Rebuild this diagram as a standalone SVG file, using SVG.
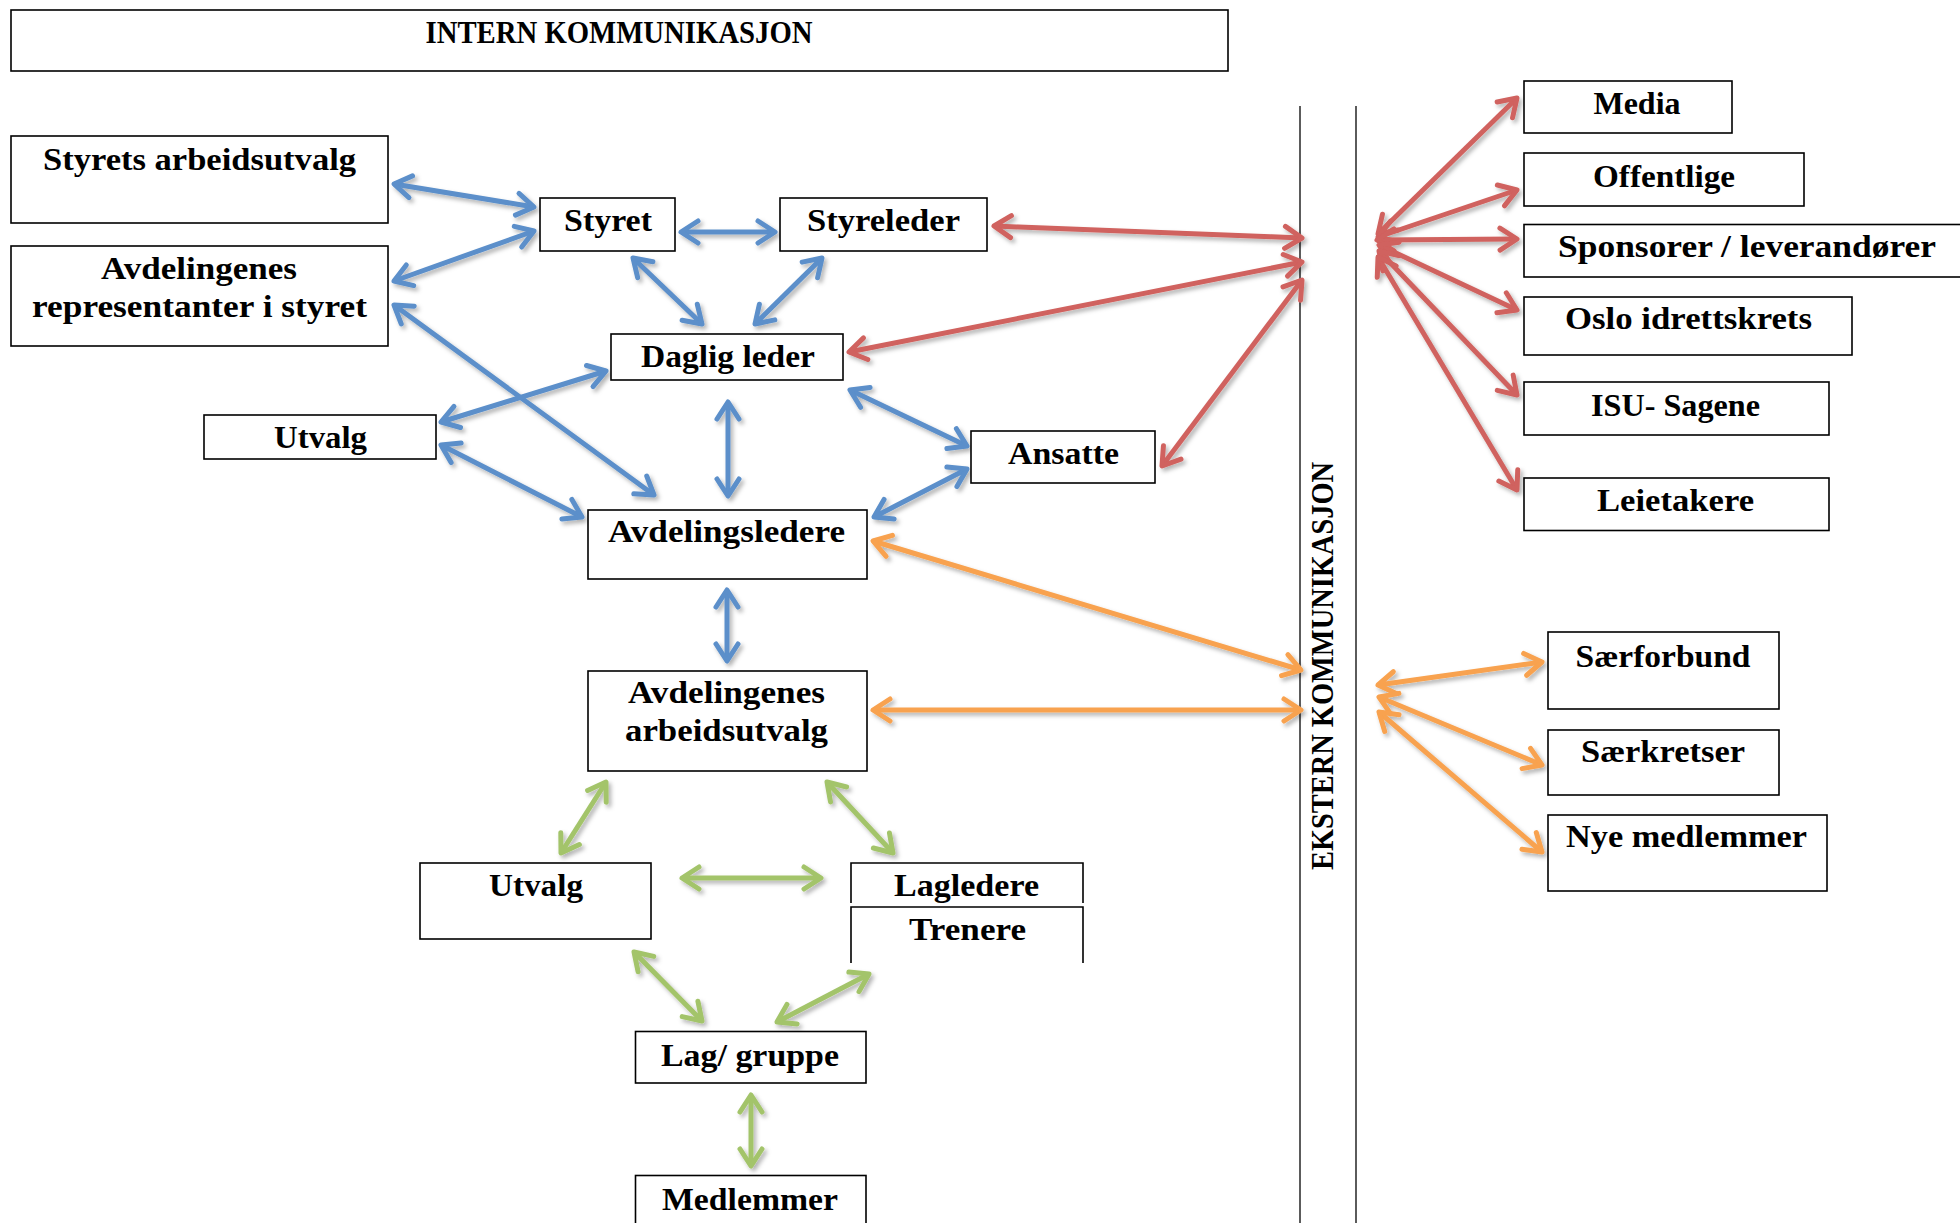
<svg xmlns="http://www.w3.org/2000/svg" width="1960" height="1223" viewBox="0 0 1960 1223">
<style>
.box{fill:#fff;stroke:#000;stroke-width:1.6}
.open{fill:none;stroke:#000;stroke-width:1.6}
.t{font-family:"Liberation Serif","DejaVu Serif",serif;font-weight:bold;font-size:31px;fill:#000;text-anchor:middle}
.sep{stroke:#333;stroke-width:1.6}
.c line{stroke-width:5;fill:none}
.b{stroke:#5B8FCA;marker-start:url(#mb);marker-end:url(#mb)}
.r{stroke:#D0625E;marker-start:url(#mr);marker-end:url(#mr)}
.o{stroke:#F8A24F;marker-start:url(#mo);marker-end:url(#mo)}
.g{stroke:#A3C46A;marker-start:url(#mg);marker-end:url(#mg)}
</style>
<defs>
<filter id="sh" x="-20%" y="-20%" width="140%" height="140%">
<feDropShadow dx="2.5" dy="3" stdDeviation="2" flood-color="#000" flood-opacity="0.3"/>
</filter>
<marker id="mb" markerUnits="userSpaceOnUse" markerWidth="40" markerHeight="40" refX="0" refY="0" orient="auto-start-reverse" overflow="visible"><path d="M-17,-11 L0,0 L-17,11" fill="none" stroke="#5B8FCA" stroke-width="5" stroke-linecap="round" stroke-linejoin="round"/></marker>
<marker id="mr" markerUnits="userSpaceOnUse" markerWidth="40" markerHeight="40" refX="0" refY="0" orient="auto-start-reverse" overflow="visible"><path d="M-17,-11 L0,0 L-17,11" fill="none" stroke="#D0625E" stroke-width="5" stroke-linecap="round" stroke-linejoin="round"/></marker>
<marker id="mo" markerUnits="userSpaceOnUse" markerWidth="40" markerHeight="40" refX="0" refY="0" orient="auto-start-reverse" overflow="visible"><path d="M-17,-11 L0,0 L-17,11" fill="none" stroke="#F8A24F" stroke-width="5" stroke-linecap="round" stroke-linejoin="round"/></marker>
<marker id="mg" markerUnits="userSpaceOnUse" markerWidth="40" markerHeight="40" refX="0" refY="0" orient="auto-start-reverse" overflow="visible"><path d="M-17,-11 L0,0 L-17,11" fill="none" stroke="#A3C46A" stroke-width="5" stroke-linecap="round" stroke-linejoin="round"/></marker>
</defs>
<rect width="1960" height="1223" fill="#fff"/>

<g id="n-title"><rect class="box" x="11" y="10" width="1217" height="61"/><text class="t" x="619" y="43" textLength="387" lengthAdjust="spacingAndGlyphs">INTERN KOMMUNIKASJON</text></g>

<g id="ekstern">
<line class="sep" x1="1300" y1="106" x2="1300" y2="1223"/>
<line class="sep" x1="1356" y1="106" x2="1356" y2="1223"/>
<text class="t" transform="translate(1333,666) rotate(-90)" x="0" y="0" textLength="408" lengthAdjust="spacingAndGlyphs">EKSTERN KOMMUNIKASJON</text>
</g>

<g id="connectors" class="c" filter="url(#sh)">
<line class="b" x1="394" y1="184" x2="534" y2="207"/>
<line class="b" x1="394" y1="281" x2="534" y2="231"/>
<line class="b" x1="681" y1="232" x2="775" y2="232"/>
<line class="b" x1="633" y1="258" x2="702" y2="324"/>
<line class="b" x1="822" y1="258" x2="755" y2="324"/>
<line class="b" x1="394" y1="305" x2="654" y2="495"/>
<line class="b" x1="441" y1="422" x2="606" y2="371"/>
<line class="b" x1="441" y1="445" x2="582" y2="517"/>
<line class="b" x1="728" y1="402" x2="728" y2="496"/>
<line class="b" x1="850" y1="390" x2="967" y2="446"/>
<line class="b" x1="874" y1="517" x2="967" y2="469"/>
<line class="b" x1="727" y1="590" x2="727" y2="661"/>

<line class="r" x1="994" y1="226" x2="1302" y2="238"/>
<line class="r" x1="849" y1="352" x2="1302" y2="262"/>
<line class="r" x1="1162" y1="466" x2="1302" y2="280"/>
<line class="r" x1="1378" y1="234" x2="1517" y2="98"/>
<line class="r" x1="1378" y1="237" x2="1517" y2="190"/>
<line class="r" x1="1377" y1="240" x2="1517" y2="239"/>
<line class="r" x1="1379" y1="245" x2="1517" y2="310"/>
<line class="r" x1="1379" y1="251" x2="1517" y2="395"/>
<line class="r" x1="1378" y1="257" x2="1517" y2="490"/>

<line class="o" x1="873" y1="541" x2="1301" y2="670"/>
<line class="o" x1="873" y1="710" x2="1301" y2="710"/>
<line class="o" x1="1378" y1="685" x2="1542" y2="662"/>
<line class="o" x1="1379" y1="697" x2="1542" y2="765"/>
<line class="o" x1="1379" y1="712" x2="1542" y2="852"/>

<line class="g" x1="606" y1="782" x2="561" y2="853"/>
<line class="g" x1="827" y1="782" x2="893" y2="853"/>
<line class="g" x1="682" y1="878" x2="821" y2="878"/>
<line class="g" x1="634" y1="952" x2="702" y2="1021"/>
<line class="g" x1="869" y1="974" x2="777" y2="1022"/>
<line class="g" x1="751" y1="1095" x2="751" y2="1166"/>
</g>

<g id="n-sau"><rect class="box" x="11" y="136" width="377" height="87"/><text class="t" x="199.5" y="170" textLength="313" lengthAdjust="spacingAndGlyphs">Styrets arbeidsutvalg</text></g>
<g id="n-avdrep"><rect class="box" x="11" y="246" width="377" height="100"/><text class="t" x="199" y="279" textLength="196" lengthAdjust="spacingAndGlyphs">Avdelingenes</text><text class="t" x="199.5" y="317" textLength="335" lengthAdjust="spacingAndGlyphs">representanter i styret</text></g>
<g id="n-styret"><rect class="box" x="540" y="198" width="135" height="53"/><text class="t" x="608" y="231" textLength="88" lengthAdjust="spacingAndGlyphs">Styret</text></g>
<g id="n-styreleder"><rect class="box" x="780" y="198" width="207" height="53"/><text class="t" x="883.5" y="231" textLength="153" lengthAdjust="spacingAndGlyphs">Styreleder</text></g>
<g id="n-daglig"><rect class="box" x="611" y="334" width="232" height="46"/><text class="t" x="728" y="367" textLength="174" lengthAdjust="spacingAndGlyphs">Daglig leder</text></g>
<g id="n-utvalg1"><rect class="box" x="204" y="415" width="232" height="44"/><text class="t" x="320.5" y="448" textLength="93" lengthAdjust="spacingAndGlyphs">Utvalg</text></g>
<g id="n-ansatte"><rect class="box" x="971" y="431" width="184" height="52"/><text class="t" x="1063.5" y="464" textLength="111" lengthAdjust="spacingAndGlyphs">Ansatte</text></g>
<g id="n-avdledere"><rect class="box" x="588" y="510" width="279" height="69"/><text class="t" x="726.5" y="542" textLength="237" lengthAdjust="spacingAndGlyphs">Avdelingsledere</text></g>
<g id="n-avdarb"><rect class="box" x="588" y="671" width="279" height="100"/><text class="t" x="726.5" y="703" textLength="197" lengthAdjust="spacingAndGlyphs">Avdelingenes</text><text class="t" x="726.5" y="741" textLength="203" lengthAdjust="spacingAndGlyphs">arbeidsutvalg</text></g>
<g id="n-utvalg2"><rect class="box" x="420" y="863" width="231" height="76"/><text class="t" x="536" y="896" textLength="94" lengthAdjust="spacingAndGlyphs">Utvalg</text></g>
<g id="n-lagledere"><path class="open" d="M851,903 V863 H1083 V903"/><text class="t" x="966.5" y="896" textLength="145" lengthAdjust="spacingAndGlyphs">Lagledere</text></g>
<g id="n-trenere"><path class="open" d="M851,963 V907 H1083 V963"/><text class="t" x="967.5" y="940" textLength="117" lengthAdjust="spacingAndGlyphs">Trenere</text></g>
<g id="n-lag"><rect class="box" x="635.5" y="1031.5" width="230.5" height="51.5"/><text class="t" x="750" y="1066" textLength="178" lengthAdjust="spacingAndGlyphs">Lag/ gruppe</text></g>
<g id="n-medlemmer"><rect class="box" x="635.5" y="1175.5" width="230.5" height="60"/><text class="t" x="750" y="1210" textLength="176" lengthAdjust="spacingAndGlyphs">Medlemmer</text></g>

<g id="n-media"><rect class="box" x="1524" y="81" width="208" height="52"/><text class="t" x="1637" y="114" textLength="87" lengthAdjust="spacingAndGlyphs">Media</text></g>
<g id="n-offentlige"><rect class="box" x="1524" y="153" width="280" height="53"/><text class="t" x="1664" y="187" textLength="142" lengthAdjust="spacingAndGlyphs">Offentlige</text></g>
<g id="n-sponsorer"><rect class="box" x="1524" y="224.5" width="450" height="52.5"/><text class="t" x="1747" y="256.5" textLength="378" lengthAdjust="spacingAndGlyphs">Sponsorer / leverandører</text></g>
<g id="n-oslo"><rect class="box" x="1524" y="297" width="328" height="58"/><text class="t" x="1688.5" y="329" textLength="247" lengthAdjust="spacingAndGlyphs">Oslo idrettskrets</text></g>
<g id="n-isu"><rect class="box" x="1524" y="382" width="305" height="53"/><text class="t" x="1675.5" y="415.5" textLength="169" lengthAdjust="spacingAndGlyphs">ISU- Sagene</text></g>
<g id="n-leie"><rect class="box" x="1524" y="478" width="305" height="52.5"/><text class="t" x="1675.5" y="511" textLength="157" lengthAdjust="spacingAndGlyphs">Leietakere</text></g>
<g id="n-saerforbund"><rect class="box" x="1548" y="632" width="231" height="77"/><text class="t" x="1663" y="666.5" textLength="175" lengthAdjust="spacingAndGlyphs">Særforbund</text></g>
<g id="n-saerkretser"><rect class="box" x="1548" y="730" width="231" height="65"/><text class="t" x="1663" y="761.5" textLength="164" lengthAdjust="spacingAndGlyphs">Særkretser</text></g>
<g id="n-nye"><rect class="box" x="1548" y="815" width="279" height="76"/><text class="t" x="1686.5" y="846.5" textLength="241" lengthAdjust="spacingAndGlyphs">Nye medlemmer</text></g>
</svg>
